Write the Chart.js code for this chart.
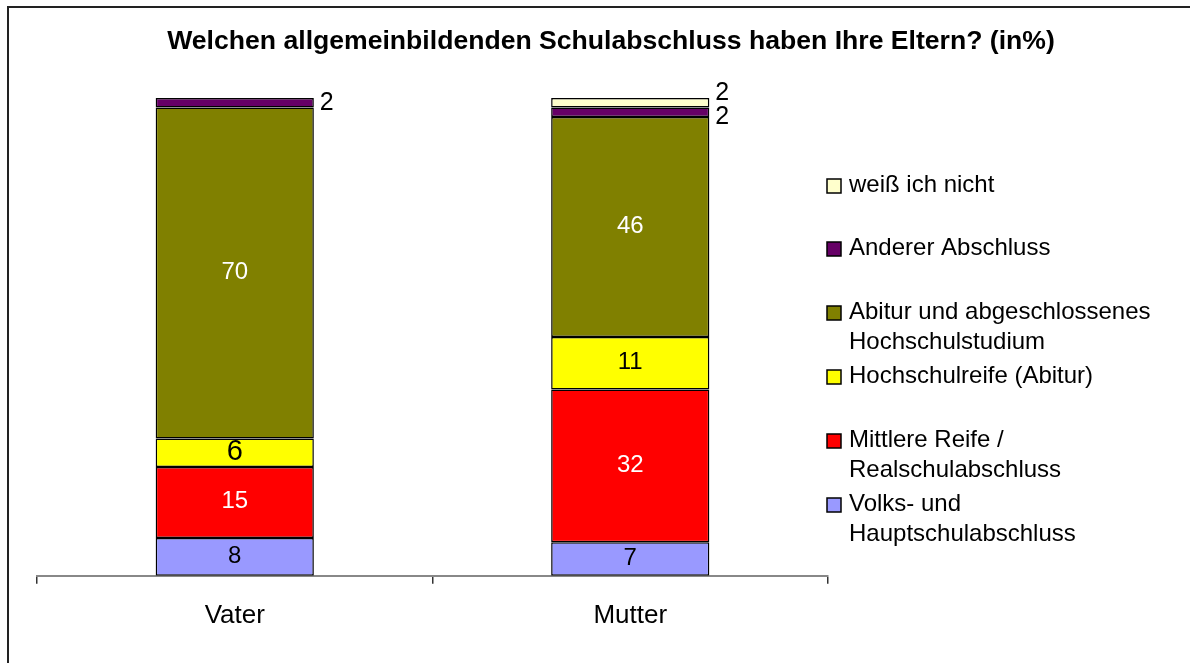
<!DOCTYPE html>
<html>
<head>
<meta charset="utf-8">
<script src="https://cdn.jsdelivr.net/npm/chart.js@4"></script>
<style>
    html, body { margin: 0; padding: 0; background: #fff; }
    #wrap { width: 1190px; height: 663px; position: relative; }
</style>
</head>
<body>
<div id="wrap"><canvas id="chartCanvas" width="1190" height="663"></canvas></div>
<script>
// ============================================
// DATA
// ============================================
const categories = ['Vater', 'Mutter'];

const chartTitle = 'Welchen allgemeinbildenden Schulabschluss haben Ihre Eltern? (in%)';

const seriesNames = [
    'Volks- und Hauptschulabschluss',
    'Mittlere Reife / Realschulabschluss',
    'Hochschulreife (Abitur)',
    'Abitur und abgeschlossenes Hochschulstudium',
    'Anderer Abschluss',
    'weiß ich nicht'
];

// legend text split as in the original
const legendLines = [
    ['Volks- und', 'Hauptschulabschluss'],
    ['Mittlere Reife /', 'Realschulabschluss'],
    ['Hochschulreife (Abitur)'],
    ['Abitur und abgeschlossenes', 'Hochschulstudium'],
    ['Anderer Abschluss'],
    ['weiß ich nicht']
];

const volksValues   = [8, 7];
const mittlereValues = [15, 32];
const hochschulreifeValues = [6, 11];
const studiumValues = [70, 46];
const andererValues = [2, 2];
const weissNichtValues = [0, 2];

const seriesColors = ['#9999FF', '#FF0000', '#FFFF00', '#808000', '#660066', '#FFFFCC'];
const labelColors  = ['#000', '#fff', '#000', '#fff', '#000', '#000'];

const rawSeries = [volksValues, mittlereValues, hochschulreifeValues, studiumValues, andererValues, weissNichtValues];

// 100% stacked: share of each category total
const totals = categories.map(function(c, i) {
    return rawSeries.reduce(function(s, arr) { return s + arr[i]; }, 0);
});

const datasets = rawSeries.map(function(arr, k) {
    return {
        label: seriesNames[k],
        data: arr.map(function(v, i) { return v / totals[i] * 100; }),
        raw: arr,
        backgroundColor: seriesColors[k],
        borderColor: '#000',
        borderWidth: 1.5,
        borderSkipped: false,
        barPercentage: 0.4,
        categoryPercentage: 1.0
    };
});

const FONT = 'Arial, "Liberation Sans", sans-serif';

// ============================================
// PLUGINS
// ============================================
const frameAndLabels = {
    id: 'frameAndLabels',
    afterDatasetsDraw: function(chart) {
        const ctx = chart.ctx;
        ctx.save();

        // title, centred on the whole picture
        ctx.font = 'bold 26.6px ' + FONT;
        ctx.fillStyle = '#000';
        ctx.textAlign = 'center';
        ctx.textBaseline = 'middle';
        ctx.fillText(chartTitle, 611, 42);

        // values on segments
        chart.data.datasets.forEach(function(ds, k) {
            const meta = chart.getDatasetMeta(k);
            meta.data.forEach(function(bar, i) {
                const v = ds.raw[i];
                if (!v) return;
                const h = Math.abs(bar.base - bar.y);
                ctx.textBaseline = 'middle';
                if (h < 20) {
                    ctx.font = '25px ' + FONT;
                    ctx.fillStyle = '#000';
                    ctx.textAlign = 'left';
                    let yOff = 0;
                    if (k === 5) yOff = -10;
                    if (k === 4 && i === 1) yOff = 5;
                    ctx.fillText(String(v), bar.x + bar.width / 2 + 6, (bar.y + bar.base) / 2 + yOff);
                } else {
                    ctx.font = (h < 32 ? '29px ' : '24px ') + FONT;
                    ctx.fillStyle = labelColors[k];
                    ctx.textAlign = 'center';
                    ctx.fillText(String(v), bar.x, (bar.y + bar.base) / 2 - 1);
                }
            });
        });

        // legend (reverse order)
        const lx = 827, tx = 849;
        const rows = [185, 248, 312, 376, 440, 504];
        ctx.font = '24px ' + FONT;
        ctx.textAlign = 'left';
        ctx.textBaseline = 'middle';
        for (let r = 0; r < rows.length; r++) {
            const k = seriesNames.length - 1 - r;
            const y = rows[r];
            ctx.fillStyle = seriesColors[k];
            ctx.fillRect(lx, y - 6, 14, 14);
            ctx.strokeStyle = '#000';
            ctx.lineWidth = 1.5;
            ctx.strokeRect(lx, y - 6, 14, 14);
            ctx.fillStyle = '#000';
            legendLines[k].forEach(function(line, j) {
                ctx.fillText(line, tx, y + j * 30);
            });
        }

        // outer frame (top + left)
        ctx.strokeStyle = '#222';
        ctx.lineWidth = 2;
        ctx.beginPath();
        ctx.moveTo(8, 663);
        ctx.lineTo(8, 7);
        ctx.lineTo(1190, 7);
        ctx.stroke();

        ctx.restore();
    }
};

// ============================================
// CHART
// ============================================
const canvas = document.getElementById('chartCanvas');
const ctx = canvas.getContext('2d');

new Chart(ctx, {
    type: 'bar',
    data: { labels: categories, datasets: datasets },
    options: {
        responsive: false,
        animation: false,
        layout: { padding: { left: 37, right: 362, top: 98, bottom: 16 } },
        plugins: {
            legend: { display: false },
            tooltip: { enabled: false },
            title: { display: false }
        },
        scales: {
            x: {
                stacked: true,
                grid: {
                    display: true,
                    drawOnChartArea: false,
                    drawTicks: true,
                    tickLength: 8,
                    color: '#333',
                    lineWidth: 1.5
                },
                border: { display: true, color: '#888', width: 2 },
                ticks: {
                    color: '#000',
                    padding: 16,
                    font: { family: FONT, size: 26 }
                }
            },
            y: {
                stacked: true,
                display: false,
                min: 0,
                max: 100
            }
        }
    },
    plugins: [frameAndLabels]
});
</script>
</body>
</html>
